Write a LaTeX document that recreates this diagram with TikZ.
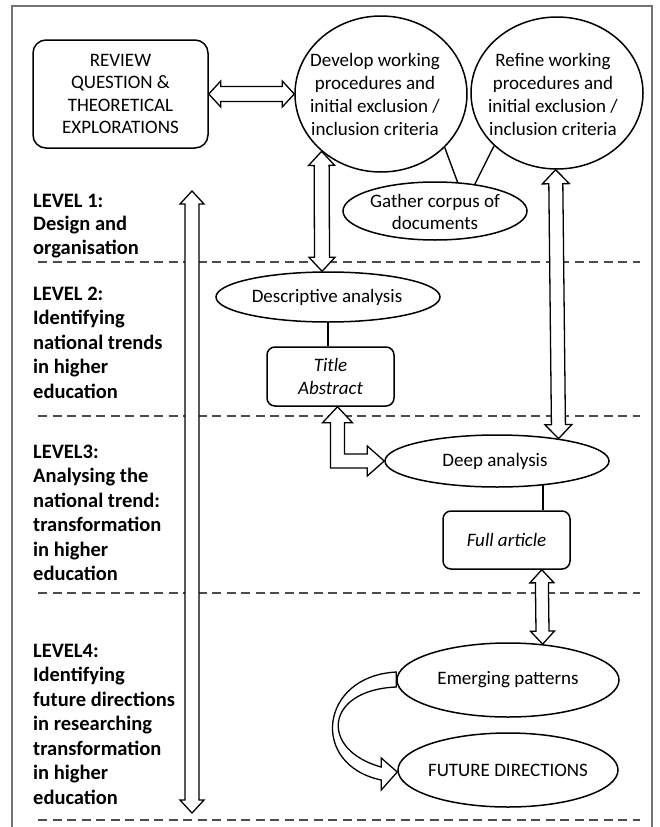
\documentclass[tikz,border=0pt]{standalone}
\usepackage{fontspec}
\setmainfont{Carlito}
\usetikzlibrary{shapes.geometric,calc}

\tikzset{
 box/.style={draw, line width=1.5pt, rounded corners=13pt, inner sep=0pt, fill=white, align=center, font=\fontsize{19}{22.5}\selectfont},
 ell/.style={draw, ellipse, line width=1.5pt, inner sep=0pt, fill=white},
 txt/.style={align=center, inner sep=0pt, font=\fontsize{19}{23}\selectfont},
 lvl/.style={anchor=north west, align=left, inner sep=0pt, font=\fontsize{20.5}{24.5}\selectfont\bfseries},
 barrow/.style={draw, line width=1.3pt, fill=white, line join=miter},
 conn/.style={line width=1.4pt},
 sep/.style={dash pattern=on 9pt off 5.5pt, line width=1.2pt, draw=black!70},
 frame/.style={line width=1.3pt, draw=black!55},
}

% double-headed block arrow: start, end, head length, head half width, shaft half width
\newcommand{\dblarrow}[5]{%
 \path (#1) coordinate (ba-s) (#2) coordinate (ba-e);
 \path ($(ba-s)!#3!(ba-e)$) coordinate (ba-s1) ($(ba-e)!#3!(ba-s)$) coordinate (ba-e1);
 \draw[barrow] (ba-s) -- ($(ba-s1)!#4!90:(ba-e)$) -- ($(ba-s1)!#5!90:(ba-e)$)
   -- ($(ba-e1)!#5!-90:(ba-s)$) -- ($(ba-e1)!#4!-90:(ba-s)$) -- (ba-e)
   -- ($(ba-e1)!#4!90:(ba-s)$) -- ($(ba-e1)!#5!90:(ba-s)$)
   -- ($(ba-s1)!#5!-90:(ba-e)$) -- ($(ba-s1)!#4!-90:(ba-e)$) -- cycle;}

\begin{document}
\begin{tikzpicture}[x=1pt,y=-1pt]
\useasboundingbox (0,0) rectangle (660,827);

% frame
\draw[frame] (12,827) -- (12,6) -- (652,6) -- (652,827);

% level separators
\draw[sep] (38,262) -- (640,262);
\draw[sep] (38,416) -- (640,416);
\draw[sep] (38,593) -- (640,593);
\draw[sep] (38,820) -- (640,820);

% level labels
\node[lvl, font=\fontsize{20.5}{23.5}\selectfont\bfseries] (l1) at (33,190.5) {\strut LEVEL 1:\\\strut Design and\\\strut organisation};
\node[lvl] (l2) at (33,283) {\strut LEVEL 2:\\\strut Identifying\\\strut national trends\\\strut in higher\\\strut education};
\node[lvl] (l3) at (33,441) {\strut LEVEL3:\\\strut Analysing the\\\strut national trend:\\\strut transformation\\\strut in higher\\\strut education};
\node[lvl] (l4) at (33,640) {\strut LEVEL4:\\\strut Identifying\\\strut future directions\\\strut in researching\\\strut transformation\\\strut in higher\\\strut education};

% nodes
\node[box, minimum width=175pt, minimum height=108pt] (rev) at (120.5,94) {REVIEW\\QUESTION \&\\THEORETICAL\\EXPLORATIONS};
\node[ell, minimum width=172pt, minimum height=156pt] (dev) at (381,94) {};
\node[txt] (devt) at (375,94) {Develop working\\procedures and\\initial exclusion /\\ inclusion criteria};
\node[ell, minimum width=172pt, minimum height=152pt] (ref) at (557,93) {};
\node[txt] (reft) at (553,94) {Refine working\\procedures and\\initial exclusion /\\inclusion criteria};

\node[ell, minimum width=184pt, minimum height=58pt] (gat) at (435,211) {};
\node[txt, font=\fontsize{19}{21.5}\selectfont] (gatt) at (435,212) {Gather corpus of\\documents};
\draw[conn] (dev.-40.5) -- (gat.52);
\draw[conn] (ref.-140.4) -- (gat.34);

\node[ell, minimum width=224pt, minimum height=50pt] (desc) at (328,297) {};
\node[txt] (desct) at (327,297) {Descriptive analysis};
\node[box, rounded corners=8pt, minimum width=127pt, minimum height=59pt, font=\fontsize{19}{23}\selectfont\itshape] (ta) at (330.5,376.5) {Title\\Abstract};
\draw[conn] (desc.south) -- (desc.south |- ta.north);

\node[ell, minimum width=224pt, minimum height=52pt] (deep) at (497,461) {};
\node[txt] (deept) at (495,461) {Deep analysis};
\node[box, rounded corners=8pt, minimum width=127pt, minimum height=58pt, font=\fontsize{19}{23}\selectfont\itshape] (fa) at (506.5,540) {Full article};
\draw[conn] (deep.-28.6) -- (deep.-28.6 |- fa.north);

\node[ell, minimum width=222pt, minimum height=74pt] (emg) at (508,680) {};
\node[txt] (emgt) at (508,680) {Emerging patterns};
\node[ell, minimum width=220pt, minimum height=74pt] (fut) at (508,770) {};
\node[txt] (futt) at (508,770) {FUTURE DIRECTIONS};

% long left arrow
\coordinate (la1) at (192,191);
\coordinate (la2) at (192,813);
\dblarrow{la1}{la2}{13pt}{12pt}{7pt}

% block arrows
\dblarrow{rev.east}{dev.west}{12pt}{13pt}{7.5pt}
\dblarrow{dev.-136}{desc.103.5}{14pt}{13pt}{7.5pt}
\dblarrow{ref.-91}{deep.20.9}{14pt}{13.5pt}{7pt}
\dblarrow{$(fa.south east)+(-29,0)$}{emg.46.9}{13pt}{12pt}{6.5pt}

% L-shaped arrow Title/Abstract -> Deep analysis
\draw[barrow] let \p1=($(ta.south)+(7,0)$), \p2=(deep.west) in
 (\p1) -- (\x1+15,\y1-16) -- (\x1+7,\y1-16) -- (\x1+7,\y2+7) -- (\x2-17,\y2+7)
 -- (\x2-17,\y2+15) -- (\p2) -- (\x2-17,\y2-15) -- (\x2-17,\y2-7) -- (\x1-7,\y2-7)
 -- (\x1-7,\y1-16) -- (\x1-15,\y1-16) -- cycle;

% curved arrow Emerging -> FUTURE
\draw[barrow] let \p1=(emg.west), \p2=(fut.west) in
 (\x1,\y1+8) .. controls (\x1-77,\y1+4) and (\x2-88,\y2+5) .. (\x2-16,\y2-10)
 -- (\x2-16,\y2-20) -- (\x2,\y2-2) -- (\x2-16,\y2+12) -- (\x2-16,\y2+3)
 .. controls (\x2-78,\y2+20) and (\x1-72,\y1-10) .. (\x1,\y1-7) -- cycle;
\end{tikzpicture}
\end{document}
